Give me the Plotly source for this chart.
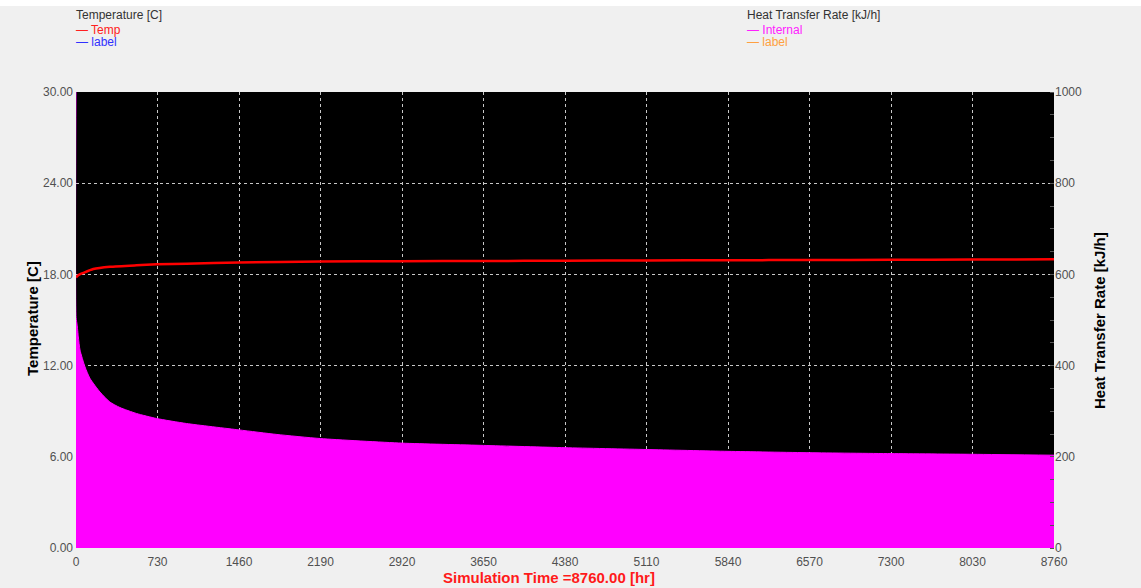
import plotly.graph_objects as go

# Temperature series (left axis, C)
temp_t = [0, 20, 66, 155, 304, 542, 722, 990, 1460, 2190, 2920, 3650, 4380, 5110, 5840, 6570, 7300, 8030, 8760]
temp_v = [17.8, 17.95, 18.1, 18.35, 18.5, 18.6, 18.66, 18.7, 18.78, 18.85, 18.87, 18.88, 18.9, 18.92, 18.93, 18.95, 18.96, 18.98, 18.99]

# Internal heat transfer rate (right axis, kJ/h)
heat_t = [0, 1, 10, 21, 36, 81, 125, 215, 304, 394, 542, 722, 990, 1460, 1800, 2190, 2920, 3650, 4380, 5110, 5840, 6570, 7300, 8030, 8760]
heat_v = [1000, 505, 490, 463, 434, 397, 372, 342, 320, 308, 295, 284, 273, 259, 249, 240, 230, 225, 220, 216, 212, 209, 207, 205.5, 203.5]

x_ticks = [0, 730, 1460, 2190, 2920, 3650, 4380, 5110, 5840, 6570, 7300, 8030, 8760]
y_ticks = [0, 6, 12, 18, 24, 30]
y2_ticks = [0, 200, 400, 600, 800, 1000]

FONT = "Liberation Sans, Arial, sans-serif"
W, H = 1141, 588
L, R, T, B = 76, 87, 92, 40
PW, PH = W - L - R, H - T - B

def px(xp):
    return (xp - L) / PW

def py(yp):
    return (H - B - yp) / PH

fig = go.Figure()
fig.add_trace(go.Scatter(x=heat_t, y=heat_v, yaxis="y2", mode="lines",
                         line=dict(color="#ff00ff", width=1, shape="spline", smoothing=0.6),
                         fill="tozeroy", fillcolor="#ff00ff", name="Internal", showlegend=False))
fig.add_trace(go.Scatter(x=temp_t, y=temp_v, mode="lines",
                         line=dict(color="#ff0000", width=2.5, shape="spline", smoothing=0.6),
                         name="Temp", showlegend=False))

grid = dict(showgrid=True, gridcolor="#c8c8c8", griddash="dot", gridwidth=1)
tickfont = dict(family=FONT, size=12, color="#505050")

fig.update_layout(
    width=W, height=H,
    margin=dict(l=L, r=R, t=T, b=B, autoexpand=False),
    paper_bgcolor="#f0f0f0", plot_bgcolor="#000000",
    font=dict(family=FONT),
    xaxis=dict(range=[0, 8760], tickvals=x_ticks, ticktext=[str(v) for v in x_ticks],
               tickfont=tickfont, zeroline=False, showline=False, ticklabelstandoff=5, **grid),
    yaxis=dict(range=[0, 30], tickvals=y_ticks, ticktext=[f"{v:.2f}" for v in y_ticks],
               tickfont=tickfont, zeroline=False, showline=False, ticklabelstandoff=2, **grid),
    yaxis2=dict(range=[0, 1000], tickvals=y2_ticks, ticktext=[str(v) for v in y2_ticks],
                overlaying="y", side="right", showgrid=False, zeroline=False,
                tickfont=tickfont,
                minor=dict(dtick=50, ticks="inside", ticklen=4, tickcolor="#555555")),
    showlegend=False,
)

fig.add_shape(type="rect", xref="paper", yref="paper", x0=-0.2, x1=1.2,
              y0=py(6), y1=py(-5), fillcolor="#ffffff", line=dict(width=0), layer="below")

ann = [
    dict(text="<b>Temperature [C]</b>", x=px(32), y=py(319), textangle=-90,
         font=dict(size=15, color="#000000")),
    dict(text="<b>Heat Transfer Rate [kJ/h]</b>", x=px(1099), y=py(321), textangle=-90,
         font=dict(size=15, color="#000000")),
    dict(text="<b>Simulation Time =8760.00 [hr]</b>", x=px(549), y=py(577),
         font=dict(size=15, color="#ff1a1a")),
    dict(text="Temperature [C]", x=px(74), y=py(15), xanchor="left",
         font=dict(size=12, color="#333333")),
    dict(text="— Temp", x=px(74), y=py(30), xanchor="left",
         font=dict(size=12, color="#ff2020")),
    dict(text="— label", x=px(74), y=py(42), xanchor="left",
         font=dict(size=12, color="#3030ff")),
    dict(text="Heat Transfer Rate [kJ/h]", x=px(745), y=py(15), xanchor="left",
         font=dict(size=12, color="#333333")),
    dict(text="— Internal", x=px(745), y=py(30), xanchor="left",
         font=dict(size=12, color="#ff20ff")),
    dict(text="— label", x=px(745), y=py(42), xanchor="left",
         font=dict(size=12, color="#ffa040")),
]
for a in ann:
    xa = a.pop("xanchor", "center")
    fig.add_annotation(xref="paper", yref="paper", showarrow=False,
                       xanchor=xa, yanchor="middle", **a)

fig.write_html(
    "out.html",
    config={"displayModeBar": False},
    post_script="document.body.style.margin='0';document.body.style.padding='0';"
                "document.body.style.overflow='hidden';",
)
